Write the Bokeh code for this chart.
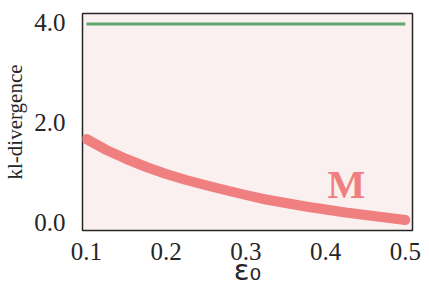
from bokeh.plotting import figure
from bokeh.models import Range1d, FixedTicker, NumeralTickFormatter
from bokeh.core.properties import value
from bokeh.embed import file_html
from bokeh.resources import INLINE

# data
eps0 = [0.1, 0.125, 0.15, 0.175, 0.2, 0.225, 0.25, 0.275, 0.3, 0.325, 0.35,
        0.375, 0.4, 0.425, 0.45, 0.475, 0.5]
kl_M = [1.67, 1.45, 1.27, 1.11, 0.97, 0.85, 0.745, 0.645, 0.55, 0.46, 0.39,
        0.32, 0.26, 0.20, 0.15, 0.10, 0.05]
green_x = [0.1, 0.5]
green_y = [3.97, 3.97]
x_ticks = [0.1, 0.2, 0.3, 0.4, 0.5]
y_ticks = [0.0, 2.0, 4.0]
label_text = "M"
label_pos = (0.426, 0.76)

RED = "#f08080"
GREEN = "#5fa86e"
DARK = "#262626"
SERIF = "Liberation Serif"

p = figure(width=421, height=291, output_backend="svg", toolbar_location=None,
           x_range=Range1d(0.095, 0.509), y_range=Range1d(-0.16, 4.18),
           min_border_left=78, min_border_right=9, min_border_top=13,
           min_border_bottom=61)

p.background_fill_color = "#fbf0f0"
p.border_fill_color = "white"
p.outline_line_color = DARK
p.outline_line_width = 1.5
p.grid.visible = False

p.line(green_x, green_y, line_color=GREEN, line_width=3)
p.line(eps0, kl_M, line_color=RED, line_width=10, line_cap="round", line_join="round")
p.text(x=[label_pos[0]], y=[label_pos[1]], text=[label_text],
       text_font=value(SERIF), text_font_style="bold", text_font_size="40px",
       text_color=RED, text_align="center", text_baseline="alphabetic")

for ax in (p.xaxis[0], p.yaxis[0]):
    ax.axis_line_color = None
    ax.major_tick_line_color = None
    ax.minor_tick_line_color = None
    ax.major_label_text_font = SERIF
    ax.major_label_text_font_size = "25px"
    ax.major_label_text_color = DARK
    ax.formatter = NumeralTickFormatter(format="0.0")

p.xaxis.ticker = FixedTicker(ticks=x_ticks)
p.yaxis.ticker = FixedTicker(ticks=y_ticks)
p.xaxis.major_label_standoff = 6
p.yaxis.major_label_standoff = 11

p.xaxis.axis_label = "ε₀"
p.xaxis.axis_label_text_font = "DejaVu Sans"
p.xaxis.axis_label_text_font_style = "normal"
p.xaxis.axis_label_text_font_size = "29px"
p.xaxis.axis_label_text_color = DARK
p.xaxis.axis_label_standoff = -10

p.yaxis.axis_label = "kl-divergence"
p.yaxis.axis_label_text_font = SERIF
p.yaxis.axis_label_text_font_style = "normal"
p.yaxis.axis_label_text_font_size = "21px"
p.yaxis.axis_label_text_color = DARK
p.yaxis.axis_label_standoff = 4

open("out.html", "w").write(file_html(p, INLINE))
